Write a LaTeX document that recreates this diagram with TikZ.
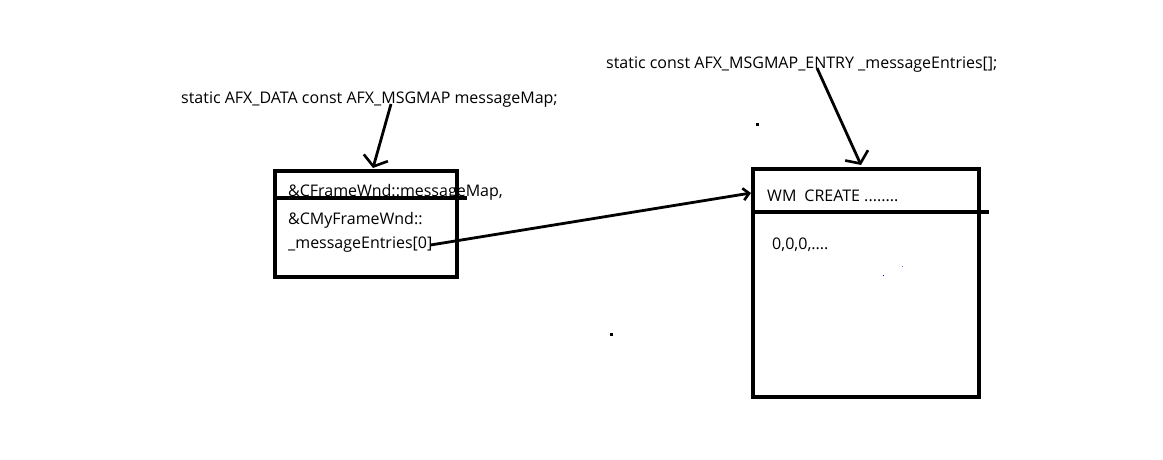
\documentclass[tikz,border=0pt]{standalone}
\usepackage{fontspec}
\setmainfont{Open Sans}
\usetikzlibrary{arrows.meta,positioning,calc}

\begin{document}
\begin{tikzpicture}[x=1pt, y=-1pt, font=\fontsize{16}{18}\selectfont,
  box/.style={draw=black, line width=3.2pt, inner sep=0pt, outer sep=0pt},
  txt/.style={anchor=west, inner sep=0pt},
  rule/.style={draw=black, line width=3.2pt},
  arrow/.style={-{Straight Barb[length=9pt,width=25pt,line width=2.6pt]}, line width=2.8pt},
  smallarrow/.style={-{Straight Barb[length=6pt,width=12pt,line width=2.6pt]}, line width=2.8pt}]
\useasboundingbox (0,0) rectangle (1163,460);
% declarations
\node[txt] (mapdecl) at (181,100) {static AFX\_DATA const AFX\_MSGMAP messageMap;};
\node[txt] (entrydecl) at (606,65) {static const AFX\_MSGMAP\_ENTRY \_messageEntries[];};
% left box
\node[box, minimum width=182pt, minimum height=106pt] (mapbox) at (366,224) {};
\draw[rule] ([yshift=-27pt]mapbox.north west) -- ++(192,0);
\node[txt] (base) at (288,192) {\&CFrameWnd::messageMap,};
\node[txt] (myframe) at (288,220) {\&CMyFrameWnd::};
\node[txt] (entries0) at (288,245) {\_messageEntries[0]};
% right box
\node[box, minimum width=226pt, minimum height=228pt] (entrybox) at (866,283) {};
\draw[rule] ([yshift=-43pt]entrybox.north west) -- ++(236,0);
\node[txt] (create) at (767,196) {WM\enspace CREATE ........};
\node[txt] (zeros) at (772,245) {0,0,0,....};
% arrows
\coordinate (mapfrom) at (391,104);
\coordinate (mapto) at (373,168);
\coordinate (entryfrom) at (817,68);
\coordinate (entryto) at (861,165);
\coordinate (linkto) at (751,193);
\draw[arrow] (mapfrom) -- (mapto);
\draw[arrow] (entryfrom) -- (entryto);
\draw[smallarrow] ([xshift=-2pt]entries0.east) -- (linkto);
% stray dots
\fill (755.5,122.5) rectangle ++(3,3);
\fill (609.5,332.5) rectangle ++(3,3);
\fill[blue!70!black] (882.5,274.5) rectangle ++(1,1);
\fill[blue!60] (901.5,265.5) rectangle ++(1,1);
\end{tikzpicture}
\end{document}
